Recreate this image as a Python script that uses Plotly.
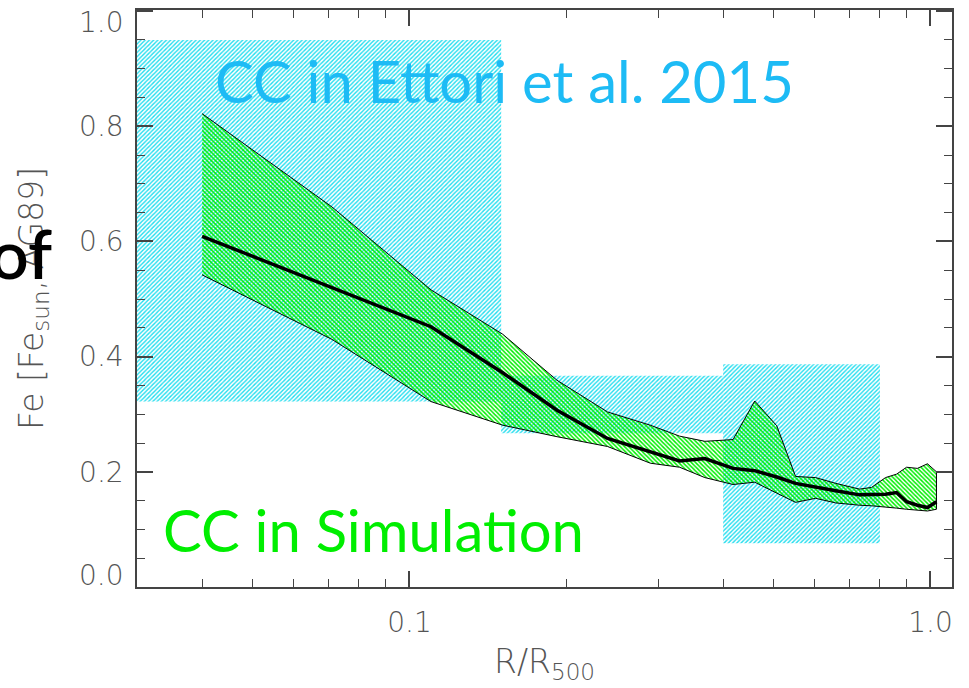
import plotly.graph_objects as go

# ---- data ----
r_sim = [0.040, 0.071, 0.110, 0.151, 0.192, 0.240, 0.290, 0.330, 0.369, 0.418,
         0.460, 0.507, 0.551, 0.602, 0.658, 0.731, 0.771, 0.820, 0.861, 0.900,
         0.944, 0.987, 1.027]
fe_upper = [0.822, 0.660, 0.516, 0.439, 0.359, 0.304, 0.281, 0.262, 0.253, 0.256,
            0.323, 0.280, 0.192, 0.190, 0.180, 0.170, 0.173, 0.190, 0.196, 0.208,
            0.206, 0.214, 0.200]
fe_mean = [0.609, 0.520, 0.452, 0.372, 0.307, 0.258, 0.235, 0.219, 0.223, 0.206,
           0.202, 0.191, 0.180, 0.173, 0.167, 0.160, 0.161, 0.161, 0.164, 0.148,
           0.142, 0.138, 0.148]
fe_lower = [0.542, 0.430, 0.322, 0.281, 0.261, 0.244, 0.215, 0.208, 0.190, 0.178,
            0.182, 0.163, 0.147, 0.154, 0.146, 0.142, 0.141, 0.139, 0.137, 0.135,
            0.133, 0.132, 0.135]

# Ettori et al. 2015 bins
obs_r_lo = [0.03, 0.15, 0.40]
obs_r_hi = [0.15, 0.40, 0.80]
obs_fe_lo = [0.322, 0.267, 0.076]
obs_fe_hi = [0.950, 0.367, 0.387]

x_tickvals = [0.1, 1.0]
x_ticktext = ["0.1", "1.0"]
x_minor = [0.04, 0.05, 0.06, 0.07, 0.08, 0.09, 0.2, 0.3, 0.4, 0.5, 0.6, 0.7, 0.8, 0.9]
y_tickvals = [0.0, 0.2, 0.4, 0.6, 0.8, 1.0]
y_ticktext = ["0.0", "0.2", "0.4", "0.6", "0.8", "1.0"]
# edge labels are drawn nudged inward (as in the original), the rest on the axis
y_edge = {0.0: -12, 1.0: 11}   # label value -> pixel shift (down negative)

CYAN = "#22DDEE"
GREEN = "#00EE00"
AXC = "#444444"
TXT = "#555555"

fig = go.Figure()

for x0, x1, y0, y1 in zip(obs_r_lo, obs_r_hi, obs_fe_lo, obs_fe_hi):
    fig.add_trace(go.Scatter(
        x=[x0, x1, x1, x0, x0], y=[y0, y0, y1, y1, y0],
        mode="none", fill="toself", fillcolor="rgba(0,0,0,0)",
        fillpattern=dict(shape="/", fgcolor=CYAN, size=3, solidity=0.45,
                         fillmode="replace"),
        hoverinfo="skip", showlegend=False))

# simulation band
fig.add_trace(go.Scatter(
    x=r_sim + r_sim[::-1], y=fe_upper + fe_lower[::-1],
    mode="lines", line=dict(color="black", width=1),
    fill="toself", fillcolor="rgba(0,0,0,0)",
    fillpattern=dict(shape="\\", fgcolor=GREEN, size=3, solidity=0.5,
                     fillmode="replace"),
    hoverinfo="skip", showlegend=False))

fig.add_trace(go.Scatter(
    x=r_sim, y=fe_mean, mode="lines",
    line=dict(color="black", width=3.5),
    hoverinfo="skip", showlegend=False))

tickfont = dict(family="DejaVu Sans", size=28, color=TXT, weight=200)
titlefont = dict(family="DejaVu Sans", size=33, color=TXT, weight=200)

fig.update_xaxes(
    type="log", range=[-1.5229, 0.0414], automargin=False,
    tickmode="array", tickvals=x_tickvals, ticktext=x_ticktext,
    ticks="inside", ticklen=16, tickwidth=1.5, tickcolor=AXC,
    minor=dict(tickmode="array", tickvals=x_minor, ticks="inside",
               ticklen=8, tickwidth=1, tickcolor=AXC),
    showline=True, linecolor=AXC, linewidth=1.5, mirror="allticks",
    showgrid=False, zeroline=False, tickfont=tickfont, ticklabelstandoff=10,
    title=dict(text="R/R<sub>500</sub>", font=titlefont, standoff=12))

fig.update_yaxes(
    range=[0, 1.002], automargin=False,
    tickmode="array", tickvals=y_tickvals,
    ticktext=["" if v in y_edge else t for v, t in zip(y_tickvals, y_ticktext)],
    ticks="inside", ticklen=16, tickwidth=1.5, tickcolor=AXC,
    minor=dict(dtick=0.05, ticks="inside", ticklen=8, tickwidth=1,
               tickcolor=AXC),
    showline=True, linecolor=AXC, linewidth=1.5, mirror="allticks",
    showgrid=False, zeroline=False, tickfont=tickfont,
    ticklabelstandoff=6,
    title=dict(text="Fe [Fe<sub>sun</sub>, AG89]", font=titlefont, standoff=26))

for v, t in zip(y_tickvals, y_ticktext):
    if v in y_edge:
        fig.add_annotation(text=t, xref="paper", yref="y", x=0, y=v,
                           xanchor="right", yanchor="middle", showarrow=False,
                           xshift=-11, yshift=-y_edge[v], font=tickfont)

fig.add_annotation(text="CC in Ettori et al. 2015", xref="paper", yref="paper",
                   x=0.4515, y=0.878, xanchor="center", yanchor="middle",
                   showarrow=False,
                   font=dict(family="Lato", size=58, color="#1DBBF5"))
fig.add_annotation(text="CC in Simulation", xref="paper", yref="paper",
                   x=0.29, y=0.1, xanchor="center", yanchor="middle",
                   showarrow=False,
                   font=dict(family="Lato", size=58, color="#00EE00"))
fig.add_annotation(text="of", xref="paper", yref="paper",
                   x=-0.102, y=0.58, xanchor="right", yanchor="middle",
                   showarrow=False,
                   font=dict(family="Lato", size=68, color="black", weight=600))

fig.update_layout(
    width=969, height=688,
    margin=dict(l=137, r=17, t=10, b=101),
    plot_bgcolor="white", paper_bgcolor="white",
    showlegend=False)

fig.write_html("out.html", config={"displayModeBar": False},
               post_script="document.body.style.margin='0px';")
